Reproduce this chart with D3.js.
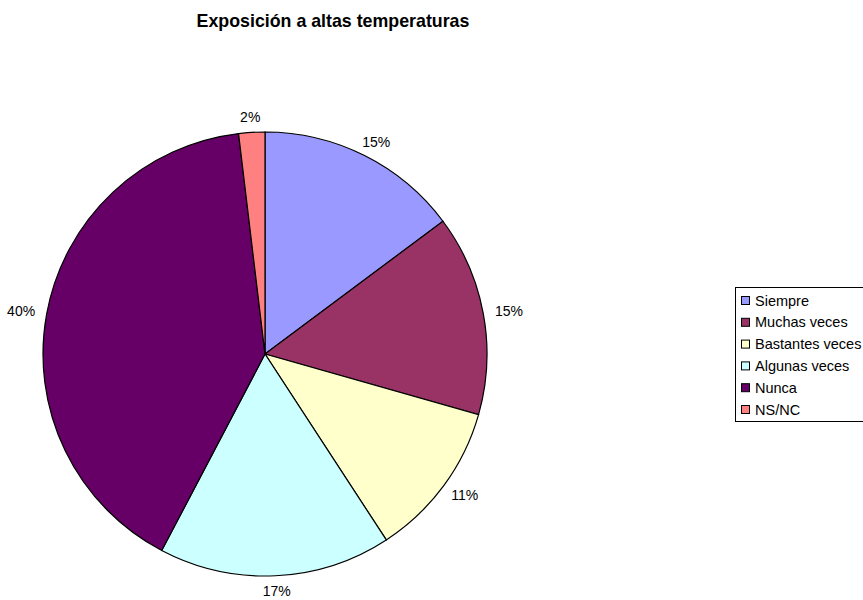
<!DOCTYPE html>
<html><head><meta charset="utf-8">
<script src="https://cdn.jsdelivr.net/npm/d3@7"></script>
<style>body{margin:0;background:#fff;} svg{display:block;font-family:"Liberation Sans",Arial,sans-serif;}</style>
</head><body>
<svg id="c" width="863" height="600"></svg>
<script>
const categories = ["Siempre","Muchas veces","Bastantes veces","Algunas veces","Nunca","NS/NC"];
const values = [14.8, 14.6, 11.4, 16.9, 40.4, 1.9];
const labels = ["15%","15%","11%","17%","40%","2%"];
const colors = ["#9999FF","#993366","#FFFFCC","#CCFFFF","#660066","#FF8080"];
const title = "Exposición a altas temperaturas";

const svg = d3.select("#c");
const cx = 265, cy = 354, r = 222;
svg.append("text").attr("x",333).attr("y",27).attr("text-anchor","middle")
  .attr("font-weight","bold").attr("font-size",17.8).text(title);

const pie = d3.pie().sort(null).value(d=>d)(values);
const arc = d3.arc().innerRadius(0).outerRadius(r);
const g = svg.append("g").attr("transform",`translate(${cx},${cy})`);
g.selectAll("path").data(pie).join("path")
  .attr("d",arc).attr("fill",(d,i)=>colors[i]).attr("stroke","#000").attr("stroke-width",1.2);
const lx = d=>{const a=(d.startAngle+d.endAngle)/2; return 248*Math.sin(a);};
const ly = d=>{const a=(d.startAngle+d.endAngle)/2; return -237*Math.cos(a);};
g.selectAll("text").data(pie).join("text")
  .attr("x",lx).attr("y",ly)
  .attr("text-anchor","middle").attr("dominant-baseline","central")
  .attr("font-size",14).attr("fill","#000").text((d,i)=>labels[i]);

const lg = svg.append("g");
lg.append("rect").attr("x",735.5).attr("y",287.5).attr("width",128).attr("height",134)
  .attr("fill","#fff").attr("stroke","#000");
const y = d3.scalePoint().domain(categories).range([300.5,409.5]);
categories.forEach((c,i)=>{
  lg.append("rect").attr("x",741.5).attr("y",y(c)-4).attr("width",8).attr("height",8)
    .attr("fill",colors[i]).attr("stroke","#000");
  lg.append("text").attr("x",755).attr("y",y(c)).attr("dominant-baseline","central")
    .attr("font-size",14.5).text(c);
});
</script>
</body></html>
